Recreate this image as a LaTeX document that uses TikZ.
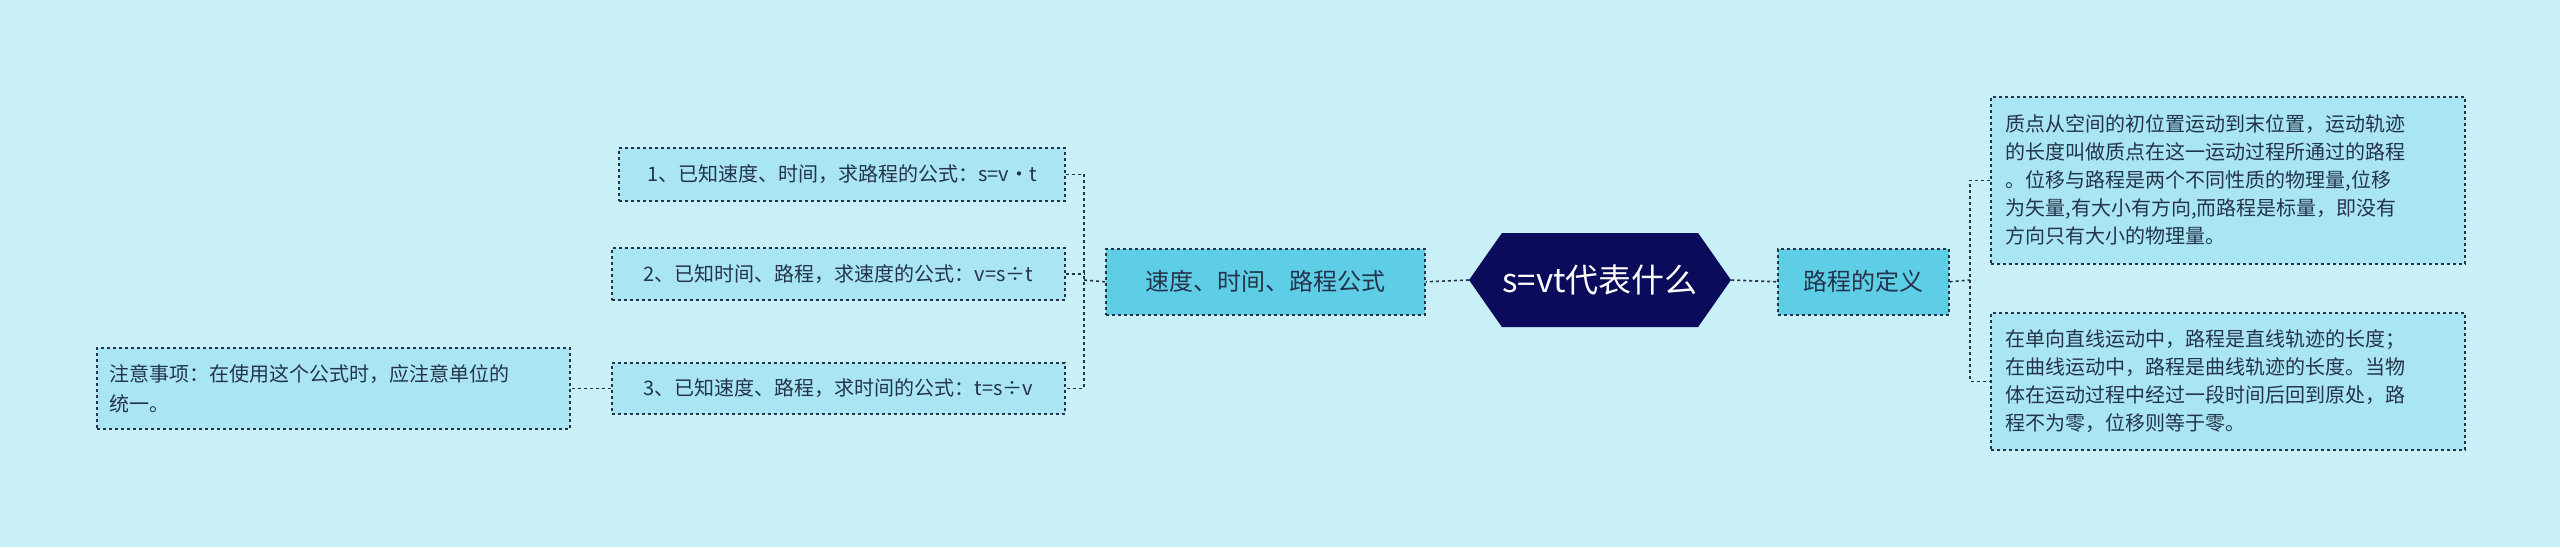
\documentclass[tikz,border=0pt]{standalone}
\usepackage{fontspec}
\setmainfont{Noto Sans CJK SC}
\usetikzlibrary{shapes.geometric,shapes.symbols}
\definecolor{bg}{HTML}{C9F0F7}
\definecolor{boxf}{HTML}{A9E5F2}
\definecolor{midf}{HTML}{5ECDE6}
\definecolor{navy}{HTML}{0B0B5C}
\definecolor{ink}{HTML}{24344A}
\tikzset{
  x=1pt,y=-1pt,
  box/.style={draw=ink,dashed,line width=1.6pt,fill=boxf,text=ink,inner sep=0,anchor=north west,align=left},
  mid/.style={draw=ink,dashed,line width=1.6pt,fill=midf,text=ink,inner sep=0,anchor=north west,font=\fontsize{24}{28}\selectfont},
  conn/.style={draw=ink,dashed,line width=1.6pt},
}
\begin{document}
\begin{tikzpicture}
\fill[bg] (0,0) rectangle (2560,547);
\useasboundingbox (0,0) rectangle (2560,547);
% center
\node[fill=navy,text=white,signal,signal to=west and east,signal pointer angle=110,minimum width=262pt,minimum height=94pt,inner sep=0,font=\fontsize{33}{38}\selectfont] (c) at (1600,280) {s=vt代表什么};
\node[mid,minimum width=171pt,minimum height=66pt] (r) at (1777,248) {};
\node[font=\fontsize{24}{28}\selectfont,text=ink] at (r.center) {路程的定义};
\node[mid,minimum width=319pt,minimum height=66pt] (l) at (1105,248) {};
\node[font=\fontsize{24}{28}\selectfont,text=ink] at (l.center) {速度、时间、路程公式};
% right boxes
\node[box,minimum width=474pt,minimum height=167pt] (r1) at (1990,96) {};
\node[anchor=west,align=left,text=ink,font=\fontsize{20}{28}\selectfont] at ([xshift=12pt]r1.west) {质点从空间的初位置运动到末位置，运动轨迹\\的长度叫做质点在这一运动过程所通过的路程\\。位移与路程是两个不同性质的物理量,位移\\为矢量,有大小有方向,而路程是标量，即没有\\方向只有大小的物理量。};
\node[box,minimum width=474pt,minimum height=137pt] (r2) at (1990,312) {};
\node[anchor=west,align=left,text=ink,font=\fontsize{20}{28}\selectfont] at ([xshift=12pt]r2.west) {在单向直线运动中，路程是直线轨迹的长度；\\在曲线运动中，路程是曲线轨迹的长度。当物\\体在运动过程中经过一段时间后回到原处，路\\程不为零，位移则等于零。};
% left boxes
\node[box,minimum width=446pt,minimum height=53pt] (a1) at (618,147) {};
\node[text=ink,font=\fontsize{20}{24}\selectfont] at (a1.center) {1、已知速度、时间，求路程的公式：s=v·t};
\node[box,minimum width=453pt,minimum height=52pt] (a2) at (611,247) {};
\node[text=ink,font=\fontsize{20}{24}\selectfont] at (a2.center) {2、已知时间、路程，求速度的公式：v=s÷t};
\node[box,minimum width=453pt,minimum height=51pt] (a3) at (611,362) {};
\node[text=ink,font=\fontsize{20}{24}\selectfont] at (a3.center) {3、已知速度、路程，求时间的公式：t=s÷v};
\node[box,minimum width=473pt,minimum height=81pt] (n) at (96,347) {};
\node[anchor=west,align=left,text=ink,font=\fontsize{20}{30}\selectfont] at ([xshift=10pt]n.west) {注意事项：在使用这个公式时，应注意单位的\\统一。};
% connectors
\draw[conn] (c.east) -- (r.west);
\draw[conn] (c.west) -- (l.east);
\coordinate (rj) at (1970,280);
\draw[conn] (r.east) -- (rj);
\draw[conn] (r1.west) -| (rj) |- (r2.west);
\coordinate (lj) at (1084,280);
\draw[conn] (l.west) -- (lj);
\draw[conn] (a1.east) -| (lj) |- (a3.east);
\draw[conn] (a2.east) -- (lj |- a2.east);
\draw[conn] (a3.west) -- (n.east);
\end{tikzpicture}
\end{document}
